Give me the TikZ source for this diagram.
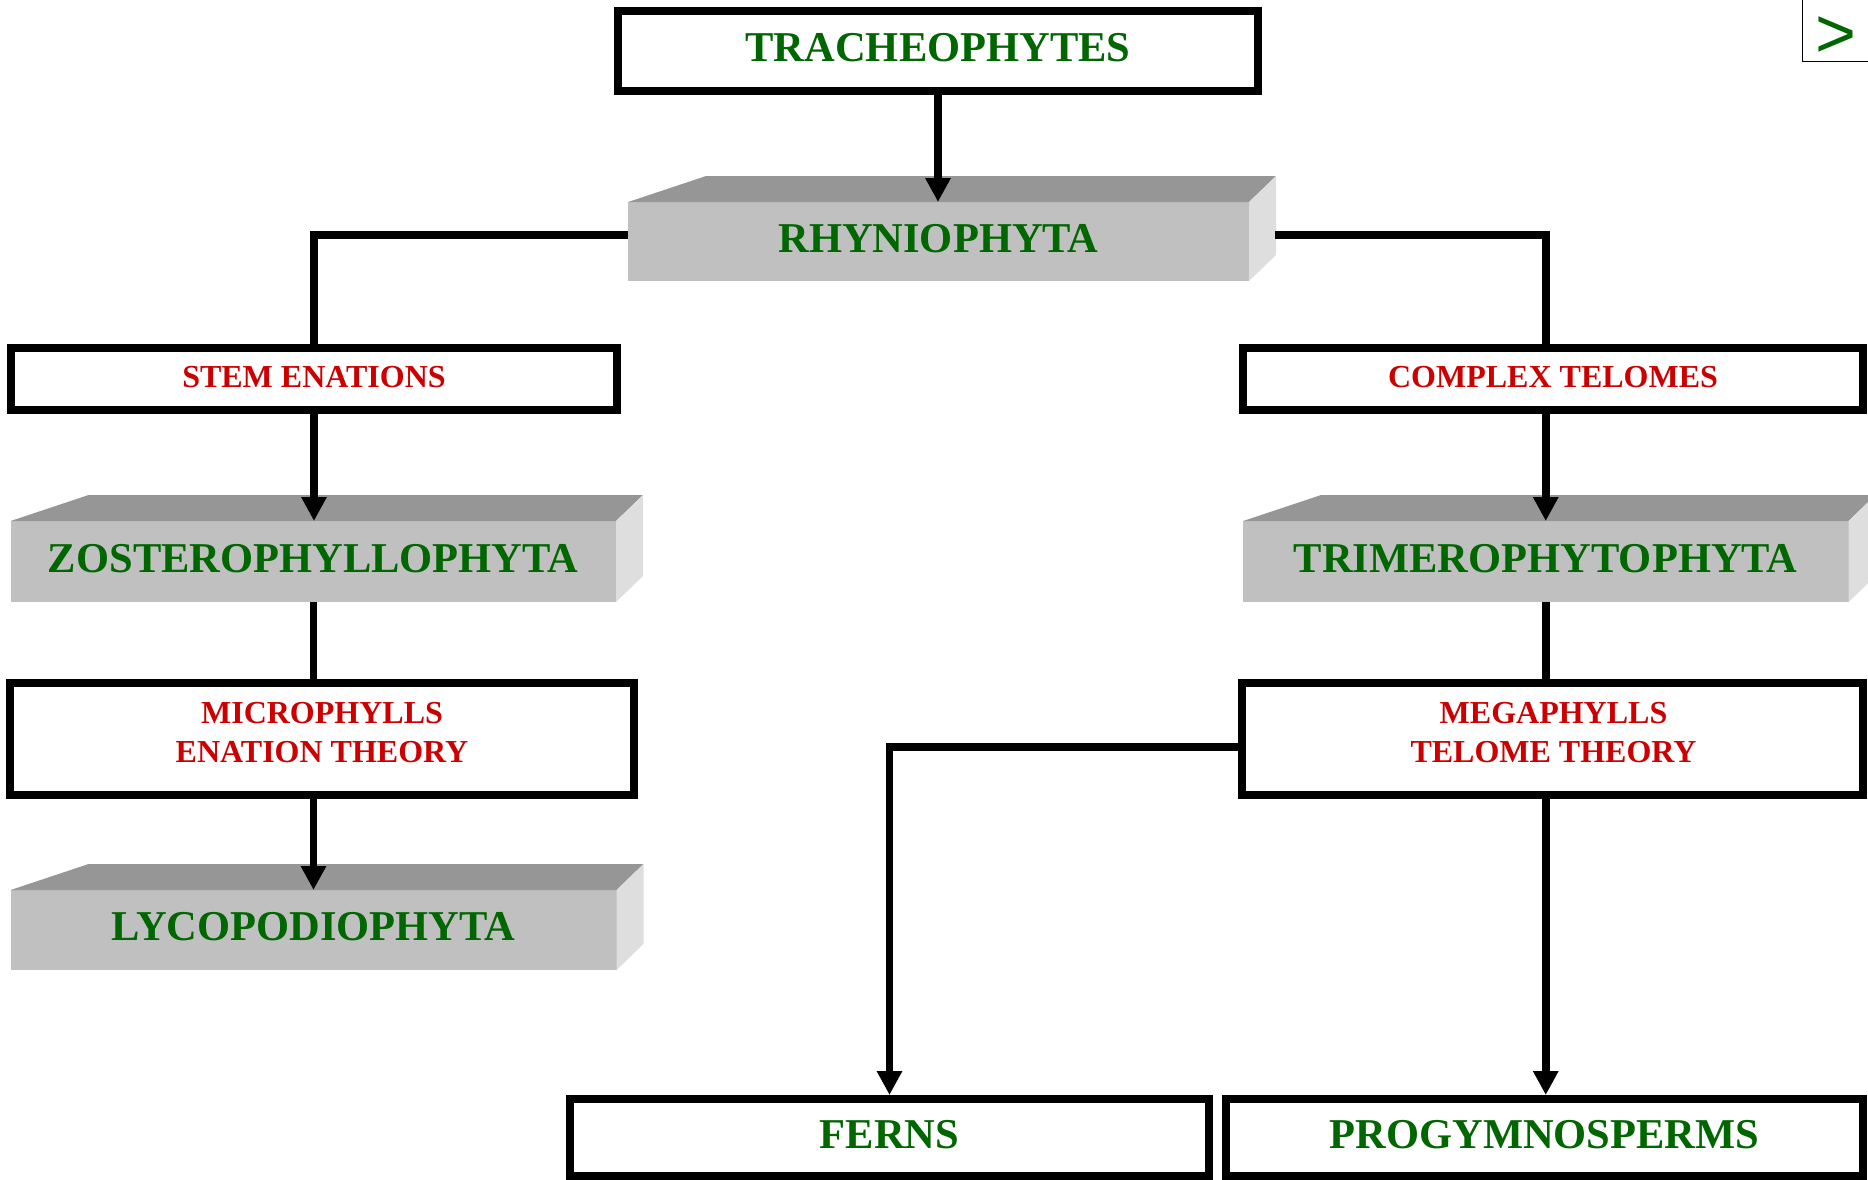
\documentclass[tikz,border=0pt]{standalone}
\usepackage{fontspec}
\setmainfont{Liberation Serif}
\newfontfamily\navfont{Liberation Sans}
\usetikzlibrary{arrows.meta,calc}
\definecolor{titlegreen}{HTML}{006600}
\definecolor{notered}{HTML}{CC0000}
\definecolor{slabfront}{HTML}{C0C0C0}
\definecolor{slabtop}{HTML}{969696}
\definecolor{slabside}{HTML}{DEDEDE}
\tikzset{
  framebox/.style={draw=black, line width=8pt, fill=white, inner sep=0pt, align=center},
  bigtext/.style={text=titlegreen, font=\fontsize{42.5}{50}\selectfont\bfseries, text height=30pt, text depth=8.6pt},
  smalltext/.style={text=notered, font=\fontsize{32}{39}\selectfont\bfseries, text height=24pt, text depth=7.8pt},
  twolinetext/.style={text=notered, font=\fontsize{32}{39}\selectfont\bfseries, align=center, inner sep=0pt},
  slab/.style={fill=slabfront, draw=none, inner sep=0pt, outer sep=0pt, align=center},
  conn/.style={draw=black, line width=7.5pt},
  arr/.style={conn, -{Triangle[width=24pt,length=24pt]}},
  navbox/.style={draw=black, line width=1.5pt, fill=white, inner sep=0pt},
}
\newcommand{\slabfaces}[1]{%
  \fill[slabtop] (#1.north west) -- ++(78,-26) -- ($(#1.north east)+(27,-26)$) -- (#1.north east) -- cycle;
  \fill[slabside] (#1.north east) -- ++(27,-26) -- ($(#1.south east)+(27,-26)$) -- (#1.south east) -- cycle;
}
\begin{document}
\begin{tikzpicture}[x=1pt,y=-1pt]
\useasboundingbox (0,0) rectangle (1868,1180);

% boxes
\node[framebox, bigtext, minimum width=640pt, minimum height=80pt] (TRACH) at (938,51) {TRACHEOPHYTES};
\node[slab, bigtext, minimum width=621pt, minimum height=79pt] (RHYNIO) at (938.5,241.5) {RHYNIOPHYTA};
\slabfaces{RHYNIO}

\node[framebox, smalltext, minimum width=606pt, minimum height=62pt] (STEM) at (314,379) {STEM ENATIONS};
\node[framebox, smalltext, minimum width=620pt, minimum height=62pt] (COMPLEX) at (1553,379) {COMPLEX TELOMES};

\node[slab, bigtext, minimum width=605.5pt, minimum height=81pt] (ZOSTERO) at (313.25,561.5) {ZOSTEROPHYLLOPHYTA};
\slabfaces{ZOSTERO}
\node[slab, bigtext, minimum width=605.5pt, minimum height=81pt] (TRIMERO) at (1545.75,561.5) {TRIMEROPHYTOPHYTA};
\slabfaces{TRIMERO}

\node[framebox, minimum width=624pt, minimum height=112pt] (MICRO) at (322,739) {};
\node[twolinetext] (MICROTXT) at (322,732.5) {MICROPHYLLS\\ENATION THEORY};
\node[framebox, minimum width=621pt, minimum height=112pt] (MEGA) at (1552.5,739) {};
\node[twolinetext] (MEGATXT) at (1553.5,732.5) {MEGAPHYLLS\\TELOME THEORY};

\node[slab, bigtext, minimum width=606pt, minimum height=80pt] (LYCO) at (313.5,930) {LYCOPODIOPHYTA};
\slabfaces{LYCO}

\node[framebox, bigtext, minimum width=639pt, minimum height=77pt] (FERNS) at (889.5,1137.5) {FERNS};
\node[framebox, bigtext, minimum width=637pt, minimum height=77pt] (PROGYM) at (1544.5,1137.5) {PROGYMNOSPERMS};

% navigation button
\node[navbox, minimum width=67pt, minimum height=66pt] (NAV) at (1836,28.5) {};
\node[text=titlegreen, font=\navfont\fontsize{70}{70}\selectfont, inner sep=0pt] (NAVSYM) at (1836,37) {>};

% connectors
\draw[arr] (TRACH.south) -- (TRACH.south |- RHYNIO.north);
\draw[conn] ([yshift=6.5pt]RHYNIO.west) -| (STEM.north);
\draw[conn] ([xshift=26pt,yshift=6.5pt]RHYNIO.east) -| (TRIMERO.north |- COMPLEX.north);

\draw[arr] (STEM.south) -- (STEM.south |- ZOSTERO.north);
\draw[conn] (ZOSTERO.south) -- (ZOSTERO.south |- MICRO.north);
\draw[arr] (LYCO.north |- MICRO.south) -- (LYCO.north);

\draw[arr] (TRIMERO.north |- COMPLEX.south) -- (TRIMERO.north);
\draw[conn] (TRIMERO.south) -- (TRIMERO.south |- MEGA.north);
\draw[arr] (TRIMERO.south |- MEGA.south) -- (TRIMERO.south |- PROGYM.north);
\draw[arr] ([yshift=-8pt]MEGA.west) -| (FERNS.north);
\end{tikzpicture}
\end{document}
